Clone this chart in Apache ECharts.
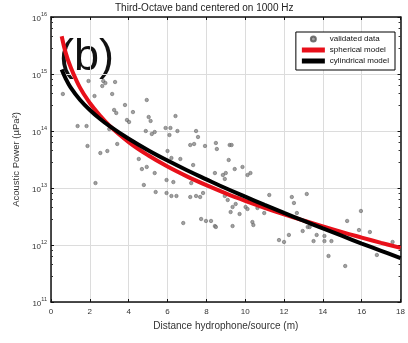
<!DOCTYPE html>
<html>
<head>
<meta charset="utf-8">
<script src="https://cdn.jsdelivr.net/npm/echarts@6/dist/echarts.min.js"></script>
<style>
html,body{margin:0;padding:0;background:#fff;}
#chart{width:408px;height:343px;}
</style>
</head>
<body>
<div id="chart"></div>
<script>
// ---- data ----
var titleText = 'Third-Octave band centered on 1000 Hz';
var xAxisName = 'Distance hydrophone/source (m)';
var yAxisName = 'Acoustic Power (\u00b5Pa\u00b2)';
var seriesNames = ['validated data', 'spherical model', 'cylindrical model'];

// validated data (distance m, acoustic power µPa²)
var dataX = [0.61,1.93,2.69,2.80,2.64,3.30,3.15,2.24,3.81,3.25,3.36,4.22,4.93,3.91,4.02,5.03,5.13,1.37,1.83,3.0,
  4.88,5.34,5.19,5.90,1.88,2.54,2.90,3.41,4.52,4.68,4.93,5.34,6.41,6.15,6.51,6.10,6.0,6.20,6.66,
  7.47,7.57,7.17,7.37,7.93,8.49,8.54,9.20,9.30,9.15,7.32,9.46,9.86,10.27,10.12,2.29,4.78,5.39,5.95,5.95,
  6.30,6.20,6.46,7.22,7.17,7.47,7.68,7.83,6.81,7.73,7.98,8.24,8.44,8.49,8.44,8.85,9.0,8.95,8.95,9.10,
  9.35,9.51,9.71,9.25,10.02,10.12,10.37,10.42,10.63,10.98,11.24,9.35,11.74,12.0,
  12.40,12.51,13.17,12.66,12.25,12.96,13.22,13.32,13.52,13.68,14.08,14.08,14.44,14.29,15.15,15.25,15.96,15.86,16.42,16.78,17.59];
var dataY = [4.46e14,7.54e14,7.54e14,6.95e14,6.16e14,7.24e14,4.46e14,4.11e14,2.86e14,2.34e14,2.07e14,2.15e14,3.50e14,1.56e14,1.44e14,1.76e14,1.50e14,1.22e14,1.22e14,1.08e14,
  1.0e14,9.6e13,8.86e13,1.13e14,5.46e13,4.11e13,4.46e13,5.92e13,3.23e13,2.15e13,2.34e13,1.83e13,1.83e14,1.13e14,1.0e14,8.5e13,4.46e13,3.36e13,3.23e13,
  1.0e14,7.85e13,5.68e13,5.92e13,5.46e13,6.16e13,4.83e13,5.68e13,5.68e13,3.10e13,2.53e13,2.15e13,2.34e13,1.83e13,1.69e13,1.22e13,1.13e13,8.5e12,1.38e13,8.17e12,
  1.27e13,7.24e12,7.24e12,1.22e13,6.95e12,7.24e12,6.95e12,8.17e12,2.43e12,2.86e12,2.64e12,2.64e12,2.15e12,2.07e12,1.83e13,1.69e13,1.83e13,1.44e13,7.24e12,6.16e12,
  4.64e12,5.24e12,3.50e12,3.79e12,4.64e12,4.28e12,2.53e12,2.24e12,4.46e12,3.64e12,7.54e12,2.15e12,1.22e12,1.13e12,
  6.95e12,5.46e12,7.85e12,3.64e12,1.50e12,1.76e12,2.07e12,2.07e12,1.17e12,1.50e12,1.44e12,1.17e12,1.17e12,6.42e11,4.28e11,2.64e12,3.95e12,1.83e12,1.69e12,6.68e11,1.13e12];

// model curves
var modelX = [0.55,0.75,1,1.5,2,2.5,3,4,5,6,7,8,9,10,11,12,13,14,15,16,17,18];
var sphericalY = [4.6e15,2.4e15,1.35e15,5.7e14,3.1e14,1.9e14,1.25e14,6.4e13,3.75e13,2.38e13,1.6e13,1.12e13,8.05e12,5.96e12,4.5e12,3.45e12,2.69e12,2.12e12,1.68e12,1.35e12,1.09e12,8.9e11];
var cylindricalY = [1.2e15,8.4e14,5.9e14,3.5e14,2.34e14,1.66e14,1.23e14,7.3e13,4.6e13,3.03e13,2.05e13,1.42e13,9.9e12,7.05e12,5.05e12,3.65e12,2.67e12,1.95e12,1.44e12,1.06e12,7.9e11,5.9e11];

var xTicks = [0,2,4,6,8,10,12,14,16,18];
var panelLabel = '(b)';

function pairs(xs, ys){ var o=[]; for(var i=0;i<xs.length;i++){ o.push([xs[i], ys[i]]); } return o; }

var FONT = 'Liberation Sans, Arial, sans-serif';
var chart = echarts.init(document.getElementById('chart'), null, {renderer:'canvas'});

var yLabelFmt = function(v){ var e = Math.round(Math.log10(v)); return '{b|10}{s|' + e + '}'; };
var yRich = { b:{fontSize:8, color:'#333', fontFamily:FONT, padding:[4,0,0,0]}, s:{fontSize:5.5, color:'#333', fontFamily:FONT, verticalAlign:'top'} };

chart.setOption({
  animation:false,
  backgroundColor:'#fff',
  title:{ text:titleText, left:115, top:3, padding:0,
    textStyle:{fontSize:10, fontWeight:'normal', color:'#222', fontFamily:FONT} },
  graphic:[{ type:'text', left:59, top:35, style:{ text:panelLabel, fontSize:45, fontFamily:FONT, fill:'#111' } }],
  legend:{ orient:'vertical', right:13, top:32, padding:[3,6,5,6], itemGap:3, itemWidth:23, itemHeight:5,
    backgroundColor:'#fff', borderColor:'#000', borderWidth:1, borderRadius:0,
    textStyle:{fontSize:8, color:'#111', fontFamily:FONT},
    data:[{name:seriesNames[0], icon:'circle'}, {name:seriesNames[1], icon:'rect'}, {name:seriesNames[2], icon:'rect'}] },
  grid:{ left:51, right:3, top:17, bottom:41, containLabel:false },
  xAxis:[{
    type:'value', min:0, max:18, interval:2,
    name:xAxisName, nameLocation:'middle', nameGap:18,
    nameTextStyle:{fontSize:10, color:'#333', fontFamily:FONT},
    axisLine:{show:true, onZero:false, lineStyle:{color:'#111', width:1.5}},
    axisTick:{show:true, inside:true, length:3, lineStyle:{color:'#111'}},
    axisLabel:{fontSize:8, color:'#333', fontFamily:FONT, margin:6},
    splitLine:{show:true, lineStyle:{color:'#dcdcdc', width:1}}
  },{
    type:'value', min:0, max:18, interval:2, position:'top',
    axisLine:{show:true, onZero:false, lineStyle:{color:'#111', width:1.5}},
    axisTick:{show:true, inside:true, length:3, lineStyle:{color:'#111'}},
    axisLabel:{show:false}, splitLine:{show:false}
  }],
  yAxis:[{
    type:'log', logBase:10, min:1e11, max:1e16,
    name:yAxisName, nameLocation:'middle', nameGap:30, nameRotate:90,
    nameTextStyle:{fontSize:9.5, color:'#333', fontFamily:FONT},
    axisLine:{show:true, onZero:false, lineStyle:{color:'#111', width:1.5}},
    axisTick:{show:true, inside:true, length:3, lineStyle:{color:'#111'}},
    minorTick:{show:true, splitNumber:5, length:2, lineStyle:{color:'#333'}},
    axisLabel:{formatter:yLabelFmt, rich:yRich, margin:4},
    splitLine:{show:true, lineStyle:{color:'#dcdcdc', width:1}}
  },{
    type:'log', logBase:10, min:1e11, max:1e16, position:'right',
    axisLine:{show:true, onZero:false, lineStyle:{color:'#111', width:1.5}},
    axisTick:{show:true, inside:true, length:3, lineStyle:{color:'#111'}},
    minorTick:{show:true, splitNumber:5, length:2, lineStyle:{color:'#333'}},
    axisLabel:{show:false}, splitLine:{show:false}
  }],
  series:[{
    name:seriesNames[0], type:'scatter', data:pairs(dataX, dataY),
    symbol:'circle', symbolSize:3.5, itemStyle:{color:'#8a8a8a', borderColor:'#555', borderWidth:0.6}, z:2
  },{
    name:seriesNames[1], type:'line', data:pairs(modelX, sphericalY), smooth:0.4, showSymbol:false, symbol:'none',
    lineStyle:{color:'#e8101a', width:4}, itemStyle:{color:'#e8101a'}, z:3
  },{
    name:seriesNames[2], type:'line', data:pairs(modelX, cylindricalY), smooth:0.4, showSymbol:false, symbol:'none',
    lineStyle:{color:'#000', width:4}, itemStyle:{color:'#000'}, z:4
  }]
});
</script>
</body>
</html>
